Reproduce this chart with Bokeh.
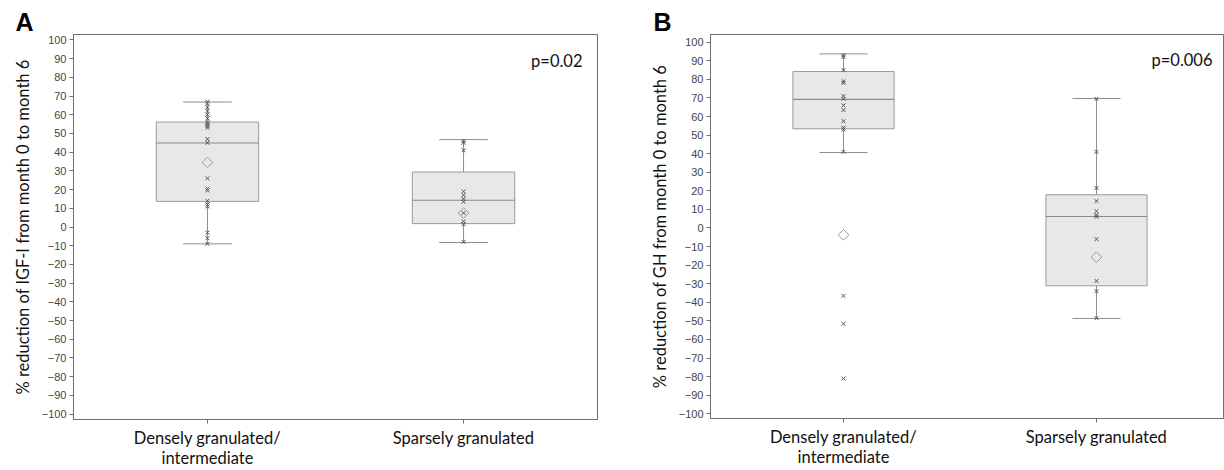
from bokeh.plotting import figure
from bokeh.layouts import row
from bokeh.models import FixedTicker, Range1d, Label
from bokeh.embed import file_html
from bokeh.resources import INLINE
import numpy as np

# ---------------- data ----------------
categories = ["Densely granulated/\nintermediate", "Sparsely granulated"]
cat_pos = [1, 2]

# Panel A (IGF-I)
a_whisk_lo = [-9, -8.3]
a_q1 = [13.7, 1.8]
a_median = [44.9, 14.3]
a_q3 = [56.1, 29.4]
a_whisk_hi = [66.8, 46.7]
a_mean = [34.5, 7.5]
a_points_dense = [67, 66, 64, 62, 60, 58, 56, 55, 54, 53, 47, 45, 26, 20.5, 19.5, 14, 12, 11, -3, -6, -9]
a_points_sparse = [46, 45, 41, 19, 17, 15, 13.5, 7.5, 3, 1.5, -8]

# Panel B (GH)
b_whisk_lo = [40.6, -48.7]
b_q1 = [53.4, -31.1]
b_median = [69.2, 6.2]
b_q3 = [84.2, 17.9]
b_whisk_hi = [93.7, 69.7]
b_mean = [-3.7, -15.7]
b_points_dense = [93, 92, 85, 79, 78, 71, 69.5, 66, 63.5, 57.5, 54, 53, 41, -36.5, -51.5, -81]
b_points_sparse = [69.5, 41, 21.5, 14.5, 9, 7, 6, -6, -28.5, -34, -48.5]

y_ticks = list(range(-100, 101, 10))

GRAY = "#8c8c8c"
AXIS = "#6e6e6e"


def make_panel(letter, ylabel, lo, q1, med, q3, hi, mean, pts_d, pts_s, pval, pval_y,
               fw, fh, bl, br, bt, yr, xr, letter_dx, letter_dy, pval_dx):
    p = figure(frame_width=fw, frame_height=fh, output_backend="svg", toolbar_location=None,
               x_range=Range1d(*xr), y_range=Range1d(*yr),
               min_border_left=bl, min_border_right=br, min_border_top=bt, min_border_bottom=10,
               title=letter)
    p.title.text_font = "Liberation Sans"
    p.title.text_font_size = "25px"
    p.title.text_font_style = "bold"
    p.title.text_color = "#000000"
    p.title.offset = letter_dx
    p.title.standoff = letter_dy
    p.title.vertical_align = "bottom"
    p.grid.visible = False
    p.outline_line_color = AXIS
    p.outline_line_width = 1
    p.background_fill_color = "white"
    p.border_fill_color = "white"

    w = 0.40
    cap = 0.19
    # whiskers
    p.segment(x0=cat_pos, x1=cat_pos, y0=lo, y1=q1, line_color=GRAY, line_width=1)
    p.segment(x0=cat_pos, x1=cat_pos, y0=q3, y1=hi, line_color=GRAY, line_width=1)
    p.segment(x0=[c - cap / 2 for c in cat_pos], x1=[c + cap / 2 for c in cat_pos],
              y0=lo, y1=lo, line_color=GRAY, line_width=1)
    p.segment(x0=[c - cap / 2 for c in cat_pos], x1=[c + cap / 2 for c in cat_pos],
              y0=hi, y1=hi, line_color=GRAY, line_width=1)
    # boxes
    p.quad(left=[c - w / 2 for c in cat_pos], right=[c + w / 2 for c in cat_pos],
           bottom=q1, top=q3, fill_color="#e8e8e8", line_color="#9a9a9a", line_width=1)
    # medians
    p.segment(x0=[c - w / 2 for c in cat_pos], x1=[c + w / 2 for c in cat_pos],
              y0=med, y1=med, line_color="#8a8a8a", line_width=1.2)
    # points
    p.scatter(x=[1] * len(pts_d), y=pts_d, marker="x", size=5.5, line_color="#505050", line_width=1)
    p.scatter(x=[2] * len(pts_s), y=pts_s, marker="x", size=5.5, line_color="#505050", line_width=1)
    # means
    p.scatter(x=cat_pos, y=mean, marker="square", angle=np.pi / 4, size=7.5,
              fill_color=None, line_color="#9a9a9a", line_width=1)

    # p value
    p.add_layout(Label(x=xr[1], y=pval_y, x_offset=pval_dx, text=pval, text_align="right",
                       text_baseline="middle", text_font="Lato", text_font_size="16.5px",
                       text_color="#111111"))

    # axes
    p.yaxis.ticker = FixedTicker(ticks=y_ticks)
    p.yaxis.minor_tick_line_color = None
    p.yaxis.major_tick_out = 4
    p.yaxis.major_tick_in = 0
    p.yaxis.axis_line_color = AXIS
    p.yaxis.major_tick_line_color = AXIS
    p.yaxis.major_label_text_font = "Liberation Sans"
    p.yaxis.major_label_text_font_size = "11px"
    p.yaxis.major_label_text_color = "#444444"
    p.yaxis.major_label_standoff = 3
    p.yaxis.axis_label = ylabel
    p.yaxis.axis_label_text_font = "Lato"
    p.yaxis.axis_label_text_font_size = "16.5px"
    p.yaxis.axis_label_text_font_style = "normal"
    p.yaxis.axis_label_text_color = "#111111"
    p.yaxis.axis_label_standoff = 6

    p.xaxis.ticker = FixedTicker(ticks=cat_pos)
    p.xaxis.major_label_overrides = {c: lab for c, lab in zip(cat_pos, categories)}
    p.xaxis.minor_tick_line_color = None
    p.xaxis.major_tick_out = 4
    p.xaxis.major_tick_in = 0
    p.xaxis.axis_line_color = AXIS
    p.xaxis.major_tick_line_color = AXIS
    p.xaxis.major_label_text_font = "Lato"
    p.xaxis.major_label_text_font_size = "16.5px"
    p.xaxis.major_label_text_line_height = 1.0
    p.xaxis.major_label_text_color = "#111111"
    p.xaxis.major_label_standoff = 4
    return p


pa = make_panel("A", "% reduction of IGF-I from month 0 to month 6",
                a_whisk_lo, a_q1, a_median, a_q3, a_whisk_hi, a_mean,
                a_points_dense, a_points_sparse, "p=0.02", 89.0,
                fw=524, fh=385, bl=73, br=11, bt=34, yr=(-102.9, 102.9), xr=(0.477, 2.523),
                letter_dx=-58, letter_dy=-3, pval_dx=-15)
pb = make_panel("B", "% reduction of GH from month 0 to month 6",
                b_whisk_lo, b_q1, b_median, b_q3, b_whisk_hi, b_mean,
                b_points_dense, b_points_sparse, "p=0.006", 90.2,
                fw=513, fh=384, bl=102, br=1, bt=34, yr=(-102.53, 104.14), xr=(0.4743, 2.502),
                letter_dx=-57, letter_dy=-3, pval_dx=-11)

layout = row(pa, pb)
open("out.html", "w").write(file_html(layout, INLINE))
